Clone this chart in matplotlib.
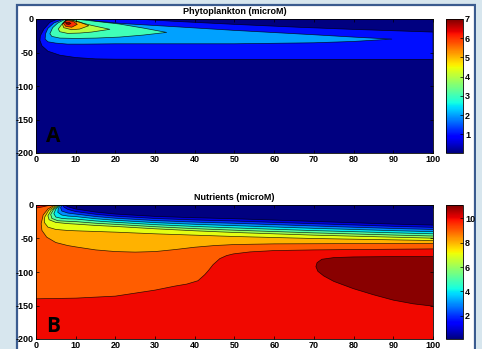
import numpy as np
import matplotlib.pyplot as plt
from matplotlib.colors import Normalize
from matplotlib.cm import ScalarMappable
from matplotlib.patches import Rectangle

plt.rcParams['font.family'] = ['Liberation Sans', 'DejaVu Sans']
plt.rcParams['axes.unicode_minus'] = False

# ---- Phytoplankton (microM): outlines of the regions above each contour level
phyto_min, phyto_max = 0.03, 7.0
phyto_levels = [1, 2, 3, 4, 5, 6, 7]

p1_x = [5.5, 3.5, 2, 1.1, 1, 1.5, 3, 6, 10, 15, 20, 40, 60, 80, 100, 100, 80, 66.5, 50, 35, 25]
p1_z = [0, -5, -15, -25, -32, -40, -48, -54, -57.5, -59.5, -60, -60.3, -60.3, -60.3, -60.3,
        -19.5, -15.5, -12.4, -8, -3.5, 0]
p2_x = [7, 4.5, 3, 2.4, 2.3, 3, 5, 8, 12, 20, 30, 50, 70, 80, 89.6, 80, 70, 50, 35, 21, 15, 12]
p2_z = [0, -6, -14, -22, -30, -34, -36, -37.5, -37.5, -37, -37, -37, -35.5, -33.5, -30,
        -27, -23.5, -17, -11.5, -6.5, -3, 0]
p3_x = [7.5, 5.5, 4.2, 3.5, 4, 6, 10, 15, 21, 27, 32.9, 27, 21, 15, 12, 10]
p3_z = [0, -6, -13, -22, -26, -28.5, -29, -28.5, -27, -24, -20, -13.5, -7.5, -3.5, -1.5, 0]
p4_x = [8, 6.5, 5.6, 6, 8, 11, 14, 18.6, 14, 11, 9]
p4_z = [-0.8, -8, -15, -19, -21.5, -21, -19.5, -15.4, -9.5, -5, -1.5]
p5_x = [7.5, 6.6, 7, 9, 11, 13.3, 11, 9]
p5_z = [-1.5, -7, -13, -16, -15, -10, -4.5, -2]
p6_x = [7.4, 6.9, 7.5, 9, 10.4, 9.5, 8.5]
p6_z = [-2.5, -6.5, -11, -12.3, -8, -4, -2.7]
p7_x = [7.5, 7.6, 8.3, 8.8, 8.4]
p7_z = [-5.5, -7.5, -8.2, -6.7, -5.2]

# ---- Nutrients (microM): contour lines, surface (or left edge) to right edge
nut_min, nut_max = 0.09, 11.09
nut_levels = [1, 2, 3, 4, 5, 6, 7, 8, 9, 10]

n1_x = [7.2, 8, 10, 15, 20, 30, 40, 50, 60, 70, 80, 90, 100]
n1_z = [0, -2.5, -6, -10.5, -13.5, -17, -19, -20.5, -22.5, -24.5, -26.5, -28.5, -30]
n2_x = [6.9, 7, 8, 10, 15, 20, 30, 40, 50, 60, 70, 80, 90, 100]
n2_z = [0, -3, -6.5, -9.8, -13.8, -16.6, -20.1, -22.3, -23.9, -25.9, -27.9, -29.8, -31.8, -33.3]
n3_x = [6.6, 6.2, 6.5, 8, 10, 15, 20, 30, 40, 50, 60, 70, 80, 90, 100]
n3_z = [0, -4, -9, -12, -13.5, -17.2, -19.7, -23.2, -25.5, -27.3, -29.3, -31.3, -33.2, -35, -36.5]
n4_x = [6.3, 5.6, 5.5, 6.5, 8, 10, 15, 20, 30, 40, 50, 60, 70, 80, 90, 100]
n4_z = [0, -5, -11, -15, -16.5, -17.3, -20.5, -22.8, -26.3, -28.8, -30.8, -32.8, -34.8, -36.5, -38.3, -39.8]
n5_x = [6.0, 5, 4.5, 5, 6.5, 8, 10, 15, 20, 30, 40, 50, 60, 70, 80, 90, 100]
n5_z = [0, -6, -13, -18, -20, -20.7, -21, -23.8, -25.8, -29.3, -32, -34.2, -36.2, -38.2, -39.8, -41.5, -43]
n6_x = [5.8, 4.4, 3.7, 4, 5.5, 8, 10, 15, 20, 30, 40, 50, 60, 70, 80, 90, 100]
n6_z = [0, -7, -14, -20, -23.5, -24.3, -24.8, -27.2, -28.9, -32.4, -35.3, -37.6, -39.6, -41.6, -43.2, -44.8, -46.3]
n7_x = [5.5, 3.8, 3, 3.3, 5, 8, 10, 15, 20, 30, 40, 50, 60, 70, 80, 90, 100]
n7_z = [0, -8, -16, -22, -26, -27.8, -28.5, -30.5, -32, -35.5, -38.5, -41, -43, -45, -46.5, -48, -49.5]
n8_x = [5.2, 3.2, 2.2, 2.1, 3, 5, 8, 10, 15, 20, 30, 40, 50, 60, 70, 80, 90, 100]
n8_z = [0, -8, -18, -26, -33, -36.5, -38, -38.5, -39.5, -40.5, -43, -45, -47, -48.5, -50, -51, -52, -53]
n9_x = [4.8, 3, 1.8, 1.3, 1.5, 2.7, 5, 8, 10, 15, 20, 25, 30, 35, 40, 45, 50, 60, 70, 80, 90, 100]
n9_z = [0, -6, -15, -28, -38, -48, -56, -60.5, -62.5, -67, -69.5, -70.3, -69.5, -66.5, -63, -60.5,
        -59, -58, -57.8, -57.6, -57.5, -57.5]
n10_x = [0, 10, 20, 30, 35, 38, 40.8, 42.5, 43.4, 44.6, 46.3, 48, 49.7, 53.9, 60, 70, 80, 90, 100]
n10_z = [-140, -139, -136, -127, -121, -118, -113, -104, -98, -89, -80, -75.5, -73, -70, -68,
         -67, -66.5, -66, -65.5]
n10b_x = [0, 1.5, 3, 3.8]
n10b_z = [-4.5, -3, -1, 0]
n11_x = [100, 90, 80, 75, 72, 70.8, 70.5, 71, 72.5, 75, 80, 85, 90, 95, 100]
n11_z = [-77, -77, -77.5, -78.5, -81, -86, -92, -99, -106, -114, -125, -134, -142, -147.5, -151]

x_ticks = [0, 10, 20, 30, 40, 50, 60, 70, 80, 90, 100]
z_ticks = [0, -50, -100, -150, -200]

jet = plt.get_cmap('jet')
W, H = 482, 349
fig = plt.figure(figsize=(W / 100, H / 100), dpi=100)
fig.patch.set_facecolor('#d7e6ee')
fig.add_artist(Rectangle((17 / W, -0.02), 458 / W, 1.02 - 5 / H, transform=fig.transFigure,
                         facecolor='white', edgecolor='#3a5b8f', lw=1.6, zorder=-1))


def style_axes(ax, title, letter, letter_z):
    ax.set_xlim(0, 100)
    ax.set_ylim(-200, 0)
    ax.set_xticks(x_ticks)
    ax.set_yticks(z_ticks)
    ax.tick_params(direction='in', top=True, right=True, length=2.5, width=0.5,
                   labelsize=6.5, pad=1.5)
    for lab in ax.get_xticklabels() + ax.get_yticklabels():
        lab.set_fontweight('bold')
    for s in ax.spines.values():
        s.set_linewidth(0.6)
    ax.set_title(title, fontsize=6.5, fontweight='bold', pad=3.5)
    ax.text(2.5, letter_z, letter, fontsize=15, fontweight='bold', family='Open Sans', zorder=5)


def add_cbar(rect, vmin, vmax, ticks):
    cax = fig.add_axes(rect)
    cb = fig.colorbar(ScalarMappable(norm=Normalize(vmin, vmax), cmap=jet), cax=cax, ticks=ticks)
    cb.outline.set_linewidth(0.6)
    cax.tick_params(direction='in', length=2, width=0.5, labelsize=6.5, pad=1.5)
    for lab in cax.get_yticklabels():
        lab.set_fontweight('bold')


# top panel: phytoplankton
ax1 = fig.add_axes([36 / W, 1 - 153 / H, 397 / W, 134 / H])
ax1.set_facecolor(jet(0.0))
phyto = [(p1_x, p1_z), (p2_x, p2_z), (p3_x, p3_z), (p4_x, p4_z),
         (p5_x, p5_z), (p6_x, p6_z), (p7_x, p7_z)]
for lev, (px, pz) in zip(phyto_levels, phyto):
    c = jet((lev - phyto_min) / (phyto_max - phyto_min))
    ax1.fill(px, pz, color=c, lw=0)
    ax1.plot(px + px[:1], pz + pz[:1], color='k', lw=0.5, alpha=0.8)
style_axes(ax1, 'Phytoplankton (microM)', 'A', -184)
add_cbar([446 / W, 1 - 153 / H, 17 / W, 134 / H], phyto_min, phyto_max, [1, 2, 3, 4, 5, 6, 7])

# bottom panel: nutrients
ax2 = fig.add_axes([36 / W, 1 - 339 / H, 397 / W, 134 / H])
ax2.set_facecolor(jet(0.0))
nut = [(n1_x, n1_z), (n2_x, n2_z), (n3_x, n3_z), (n4_x, n4_z), (n5_x, n5_z),
       (n6_x, n6_z), (n7_x, n7_z), (n8_x, n8_z), (n9_x, n9_z)]
for lev, (nx, nz) in zip(nut_levels[:-1], nut):
    c = jet((lev - nut_min) / (nut_max - nut_min))
    ax2.fill(nx + [100, 0, 0], nz + [-200, -200, 0], color=c, lw=0)
    ax2.plot(nx, nz, color='k', lw=0.5, alpha=0.8)
c10 = jet((10 - nut_min) / (nut_max - nut_min))
ax2.fill(n10_x + [100, 0], n10_z + [-200, -200], color=c10, lw=0)
ax2.plot(n10_x, n10_z, color='k', lw=0.5, alpha=0.8)
ax2.fill(n10b_x + [0], n10b_z + [0], color=c10, lw=0)
ax2.plot(n10b_x, n10b_z, color='k', lw=0.5, alpha=0.8)
c11 = jet((11 - nut_min) / (nut_max - nut_min))
ax2.fill(n11_x, n11_z, color=c11, lw=0)
ax2.plot(n11_x, n11_z, color='k', lw=0.5, alpha=0.8)
style_axes(ax2, 'Nutrients (microM)', 'B', -190)
add_cbar([446 / W, 1 - 339 / H, 17 / W, 134 / H], nut_min, nut_max, [2, 4, 6, 8, 10])

# outside of the slide panel on the right
fig.add_artist(Rectangle((476 / W, 0), 6 / W, 1, transform=fig.transFigure,
                         facecolor='#d7e6ee', edgecolor='none', zorder=10))

fig.savefig('out.png', dpi=100, facecolor=fig.get_facecolor())
